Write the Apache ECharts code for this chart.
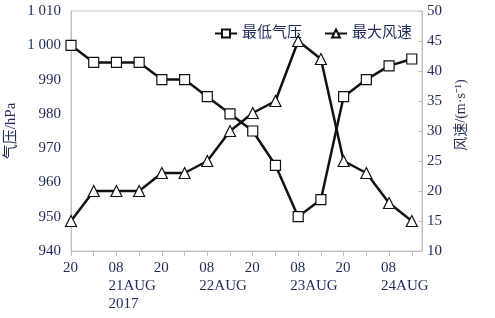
<!DOCTYPE html>
<html>
<head>
<meta charset="utf-8">
<script src="https://cdn.jsdelivr.net/npm/echarts@6/dist/echarts.min.js"></script>
<style>
  html, body { margin: 0; padding: 0; background: #fff; }
  #chart { width: 495px; height: 318px; }
</style>
</head>
<body>
<div id="chart"></div>
<script>
// 6-hourly steps from 20 Aug 20:00
const xLabels = ["20", "", "08\n21AUG\n2017", "", "20", "", "08\n22AUG", "", "20", "", "08\n23AUG", "", "20", "", "08\n24AUG", ""];
const pressure = [1000, 995, 995, 995, 990, 990, 985, 980, 975, 965, 950, 955, 985, 990, 994, 996];
const wind = [15, 20, 20, 20, 23, 23, 25, 30, 33, 35, 45, 42, 25, 23, 18, 15];

const textColor = "#1d2a57";
const font = "Liberation Serif, Times New Roman, Noto Sans CJK SC, serif";

let chart = echarts.init(document.getElementById("chart"));
let tickVals = xLabels.map((l, i) => i);
let labelVals = tickVals.filter(i => i % 2 == 0);

let option = {
  animation: false,
  grid: {
    left: 71, right: 73, top: 11, bottom: 67,
    outerBoundsMode: "none",
    show: true, borderColor: "#c8c8c8", borderWidth: 1
  },
  legend: {
    left: 209, top: 21,
    itemWidth: 22, itemHeight: 10, itemGap: 22,
    textStyle: { color: textColor, fontSize: 15, fontFamily: font },
    data: ["最低气压", "最大风速"]
  },
  xAxis: {
    type: "value",
    min: 0, max: 15.45,
    splitLine: { show: false },
    axisLine: { lineStyle: { color: "#c0c0c0" } },
    axisTick: { length: 5, lineStyle: { color: "#c0c0c0" }, customValues: tickVals },
    axisLabel: {
      customValues: labelVals,
      formatter: v => xLabels[Math.round(v)],
      color: textColor, fontSize: 15, fontFamily: font, lineHeight: 18,
      margin: 8, align: "left", padding: [0, 0, 0, -8]
    }
  },
  yAxis: [
    {
      type: "value", min: 940, max: 1010, interval: 10,
      name: "气压/hPa", nameLocation: "middle", nameGap: 52, nameRotate: 90,
      nameMoveOverlap: false,
      nameTextStyle: { color: textColor, fontSize: 15, fontFamily: font },
      splitLine: { show: false },
      axisLine: { show: true, lineStyle: { color: "#c0c0c0" } },
      axisTick: { show: false },
      axisLabel: {
        color: textColor, fontSize: 15, fontFamily: font, margin: 10,
        formatter: v => v >= 1000 ? "1 " + String(v % 1000).padStart(3, "0") : String(v)
      }
    },
    {
      type: "value", min: 10, max: 50, interval: 5, position: "right",
      name: "风速/(m·s⁻¹)", nameLocation: "middle", nameGap: 32, nameRotate: 90,
      nameTextStyle: { color: textColor, fontSize: 14, fontFamily: font, padding: [0, 0, 0, 32] },
      splitLine: { show: false },
      axisLine: { show: true, lineStyle: { color: "#c0c0c0" } },
      axisTick: { show: true, inside: true, length: 4, lineStyle: { color: "#c0c0c0" } },
      axisLabel: { color: textColor, fontSize: 15, fontFamily: font, margin: 5 }
    }
  ],
  series: [
    {
      name: "最低气压", type: "line", yAxisIndex: 0,
      data: pressure.map((v, i) => [i, v]),
      symbol: "rect", symbolSize: 10, showAllSymbol: true,
      lineStyle: { color: "#111", width: 2.5 },
      itemStyle: { color: "#fff", borderColor: "#111", borderWidth: 1.2 }
    },
    {
      name: "最大风速", type: "line", yAxisIndex: 1,
      data: wind.map((v, i) => [i, v]),
      symbol: "triangle", symbolSize: 11, showAllSymbol: true,
      lineStyle: { color: "#111", width: 2.5 },
      itemStyle: { color: "#fff", borderColor: "#111", borderWidth: 1.2 }
    }
  ]
};
chart.setOption(option);
</script>
</body>
</html>
